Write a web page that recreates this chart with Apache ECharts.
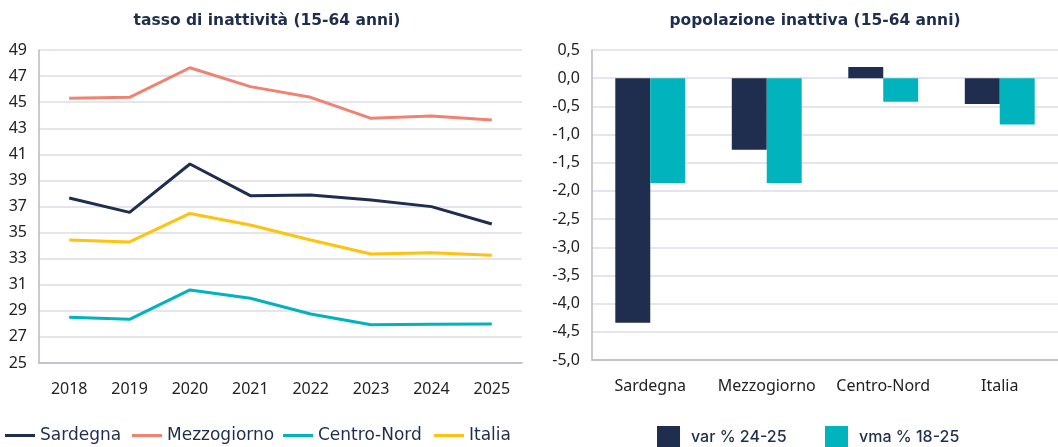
<!DOCTYPE html>
<html>
<head>
<meta charset="utf-8">
<script src="https://cdn.jsdelivr.net/npm/echarts@6/dist/echarts.min.js"></script>
<style>
  html, body { margin: 0; padding: 0; background: #fff; }
  #chart { width: 1058px; height: 447px; }
</style>
</head>
<body>
<div id="chart"></div>
<script>
/// data

const years = ['2018', '2019', '2020', '2021', '2022', '2023', '2024', '2025']
const sardegna = [37.65, 36.55, 40.26, 37.83, 37.88, 37.5, 36.99, 35.66]
const mezzogiorno = [45.3, 45.37, 47.64, 46.19, 45.37, 43.76, 43.94, 43.63]
const centroNord = [28.5, 28.35, 30.6, 29.96, 28.76, 27.94, 27.97, 27.99]
const italia = [34.43, 34.28, 36.47, 35.58, 34.43, 33.36, 33.46, 33.26]

const areas = ['Sardegna', 'Mezzogiorno', 'Centro-Nord', 'Italia']
const barNames = ['var % 24-25', 'vma % 18-25']
const var2425 = [-4.34, -1.27, 0.2, -0.46]
const vma1825 = [-1.86, -1.86, -0.42, -0.82]

/// style

const NAVY = '#1f2d4e'
const SALMON = '#f08272'
const TEAL = '#00b3bd'
const YELLOW = '#ffc20e'
const GRID = '#dedde8'
const AXIS = '#b9b8c8'
const LABEL_FONT = '"Noto Sans", sans-serif'
const WIDE_FONT = '"DejaVu Sans", sans-serif'
const BAR_LEGEND_FONT = 'Inter, "Noto Sans", sans-serif'

const comma = v => v.toFixed(1).replace('.', ',')

function line(name, data, color) {
  return {
    name, type: 'line', data,
    xAxisIndex: 0, yAxisIndex: 0,
    symbol: 'none',
    lineStyle: { color, width: 3 },
    itemStyle: { color }
  }
}

function bar(name, data, color) {
  return {
    name, type: 'bar', data,
    xAxisIndex: 1, yAxisIndex: 1,
    barGap: '0%', barCategoryGap: '40%',
    itemStyle: { color }
  }
}

const labelStyle = { color: '#222', fontSize: 16, fontFamily: LABEL_FONT }
const titleText = { color: NAVY, fontSize: 15.5, fontWeight: 'bold', fontFamily: WIDE_FONT }

// one legend per item so each sits where the reference has it
const lineLegendX = [5, 132, 283, 434]
const barLegendX = [657, 825]

const legends = areas.map((name, i) => ({
  data: [name], left: lineLegendX[i], top: 427, padding: 0,
  icon: 'rect', itemWidth: 30, itemHeight: 3,
  textStyle: { color: NAVY, fontSize: 17, fontFamily: WIDE_FONT }
})).concat(barNames.map((name, i) => ({
  data: [name], left: barLegendX[i], top: 426, padding: 0,
  icon: 'rect', itemWidth: 23, itemHeight: 22,
  textStyle: { color: NAVY, fontSize: 16, fontFamily: BAR_LEGEND_FONT, fontWeight: 500, padding: [0, 0, 0, 6] }
})))

const option = {
  animation: false,
  backgroundColor: '#fff',
  title: [
    { text: 'tasso di inattività (15-64 anni)', left: 262, top: 8, textAlign: 'center', textStyle: titleText },
    { text: 'popolazione inattiva (15-64 anni)', left: 810, top: 8, textAlign: 'center', textStyle: titleText }
  ],
  legend: legends,
  grid: [
    { left: 39, right: 536, top: 50, bottom: 84, show: true, backgroundColor: '#fff', borderWidth: 0 },
    { left: 592, right: -15, top: 50, bottom: 87, show: true, backgroundColor: '#fff', borderWidth: 0 }
  ],
  xAxis: [
    { gridIndex: 0, type: 'category', data: years,
      axisLine: { lineStyle: { color: AXIS, width: 1.5 } }, axisTick: { show: false },
      splitArea: { show: false }, splitLine: { show: false },
      axisLabel: Object.assign({ margin: 18, interval: 0 }, labelStyle) },
    { gridIndex: 1, type: 'category', data: areas,
      axisLine: { onZero: false, lineStyle: { color: AXIS, width: 1.5 } }, axisTick: { show: false },
      splitArea: { show: false }, splitLine: { show: false },
      axisLabel: Object.assign({ margin: 18, interval: 0 }, labelStyle) }
  ],
  yAxis: [
    { gridIndex: 0, type: 'value', min: 25, max: 49, interval: 1,
      axisLine: { show: true, lineStyle: { color: AXIS, width: 1.5 } }, axisTick: { show: false },
      splitArea: { show: false },
      axisLabel: Object.assign({ margin: 12, formatter: v => (v % 2 === 1 ? String(v) : '') }, labelStyle),
      splitLine: { lineStyle: { color: [GRID, 'rgba(0,0,0,0)'], width: 1.5 } } },
    { gridIndex: 1, type: 'value', min: -5, max: 0.5, interval: 0.5,
      axisLine: { show: true, lineStyle: { color: AXIS, width: 1.5 } }, axisTick: { show: false },
      splitArea: { show: false },
      axisLabel: Object.assign({ margin: 12, formatter: comma }, labelStyle),
      splitLine: { lineStyle: { color: GRID, width: 1.5 } } }
  ],
  series: [
    line('Sardegna', sardegna, NAVY),
    line('Mezzogiorno', mezzogiorno, SALMON),
    line('Centro-Nord', centroNord, TEAL),
    line('Italia', italia, YELLOW),
    bar(barNames[0], var2425, NAVY),
    bar(barNames[1], vma1825, TEAL)
  ]
}

const chart = echarts.init(document.getElementById('chart'), null, { renderer: 'canvas' })
chart.setOption(option)
</script>
</body>
</html>
